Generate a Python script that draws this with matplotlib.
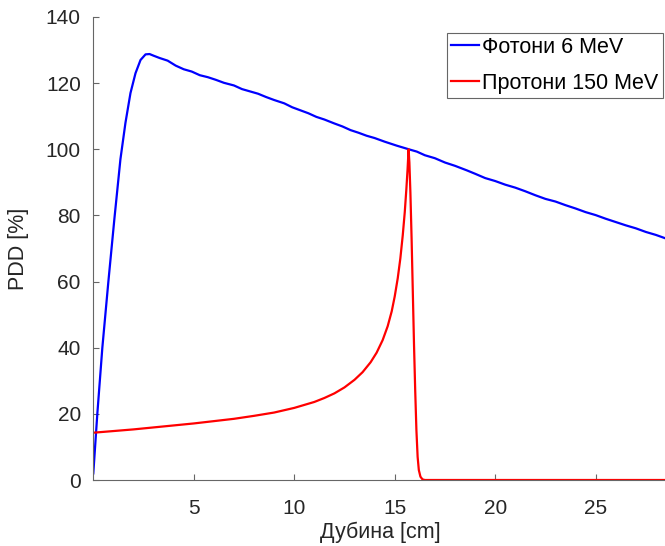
import matplotlib
matplotlib.use('Agg')
import matplotlib.pyplot as plt

plt.rcParams['font.family'] = ['Liberation Sans', 'DejaVu Sans']

# Фотони 6 MeV (очитано од сликата)
photon_x = [0.0, 0.2, 0.45, 0.75, 1.05, 1.35, 1.6, 1.85, 2.1, 2.35, 2.6, 2.8, 3.0,
            3.3, 3.7, 4.1, 4.5, 4.9, 5.3, 5.7, 6.1, 6.5, 7.0, 7.4, 7.8, 8.2, 8.6,
            9.0, 9.5, 9.9, 10.3, 10.7, 11.1, 11.5, 12.0, 12.4, 12.8, 13.2, 13.6,
            14.0, 14.5, 15.1, 15.7, 16.1, 16.5, 17.0, 17.5, 18.0, 18.6, 19.0, 19.5,
            20.0, 20.5, 21.0, 21.5, 22.0, 22.5, 23.0, 23.5, 24.0, 24.5, 25.0, 25.5,
            26.0, 26.5, 27.0, 27.5, 28.0, 28.6]
photon_y = [2.0, 20.0, 40.0, 60.0, 79.0, 97.0, 108.0, 117.0, 123.0, 127.0, 128.7, 128.8,
            128.3, 127.6, 126.8, 125.3, 124.2, 123.5, 122.4, 121.8, 121.0, 120.1, 119.3,
            118.2, 117.5, 116.8, 115.8, 114.9, 113.9, 112.7, 111.8, 110.9, 109.8, 109.0,
            107.8, 106.9, 105.8, 105.0, 104.1, 103.4, 102.3, 101.1, 100.0, 99.3, 98.2,
            97.3, 96.0, 95.0, 93.6, 92.6, 91.3, 90.4, 89.3, 88.4, 87.3, 86.1, 85.0,
            84.2, 83.1, 82.1, 81.0, 80.1, 79.0, 78.0, 77.0, 76.1, 75.0, 74.1, 72.8]

# Протони 150 MeV
proton_x = [0.0, 1.0, 2.0, 3.0, 4.0, 5.0, 6.0, 7.0, 8.0, 9.0, 10.0, 11.0, 11.5, 12.0,
            12.5, 13.0, 13.4, 13.8, 14.1, 14.4, 14.65, 14.85, 15.0, 15.15, 15.28, 15.4,
            15.5, 15.58, 15.64, 15.69, 15.73, 15.78, 15.84, 15.9, 15.96, 16.02, 16.08,
            16.14, 16.2, 16.28, 16.38, 16.5, 28.6]
proton_y = [14.3, 14.8, 15.3, 15.9, 16.5, 17.1, 17.8, 18.5, 19.4, 20.4, 21.8, 23.6, 24.8,
            26.2, 28.0, 30.3, 32.6, 35.6, 38.5, 42.3, 46.5, 51.0, 55.5, 61.0, 67.0, 74.0,
            81.0, 88.0, 94.0, 100.0, 96.0, 87.0, 73.0, 57.0, 41.0, 27.0, 15.0,
            7.0, 3.0, 1.0, 0.2, 0.0, 0.0]

xticks = [5, 10, 15, 20, 25]
yticks = [0, 20, 40, 60, 80, 100, 120, 140]

W, H = 665, 546
fig = plt.figure(figsize=(W / 100, H / 100), dpi=100)
ax = fig.add_axes([93.3 / W, 66 / H, (668 - 93.3) / W, (480 - 17) / H])

ax.plot(photon_x, photon_y, color='#0000ff', lw=1.6, label='Фотони 6 MeV')
ax.plot(proton_x, proton_y, color='#ff0000', lw=1.6, label='Протони 150 MeV')

ax.set_xlim(0, 28.6)
ax.set_ylim(0, 140)
ax.set_xticks(xticks)
ax.set_yticks(yticks)

txt = '#262626'
for s in ['top', 'right']:
    ax.spines[s].set_visible(False)
for s in ['left', 'bottom']:
    ax.spines[s].set_color('#666666')
    ax.spines[s].set_linewidth(0.8)
ax.tick_params(direction='in', length=4, width=0.8, color='#666666',
               labelsize=15, labelcolor=txt)
ax.tick_params(axis='y', pad=9)
ax.tick_params(axis='x', pad=14)

ax.set_xlabel('Дубина [cm]', fontsize=15.5, color=txt, labelpad=2)
ax.set_ylabel('PDD [%]', fontsize=15.5, color=txt, labelpad=12)

# легенда е делумно отсечена на десниот раб, како во оригиналот
leg = ax.legend(loc='upper left', bbox_to_anchor=(446.7 / W, 1 - 32.7 / H),
                bbox_transform=fig.transFigure, borderaxespad=0,
                fontsize=15.5, handlelength=1.3, handletextpad=0.15,
                labelspacing=0.68, borderpad=0.2, fancybox=False,
                framealpha=1, edgecolor='#666666')
leg.get_frame().set_linewidth(0.8)
for t in leg.get_texts():
    t.set_color('#000000')

fig.savefig('out.png', dpi=100)
